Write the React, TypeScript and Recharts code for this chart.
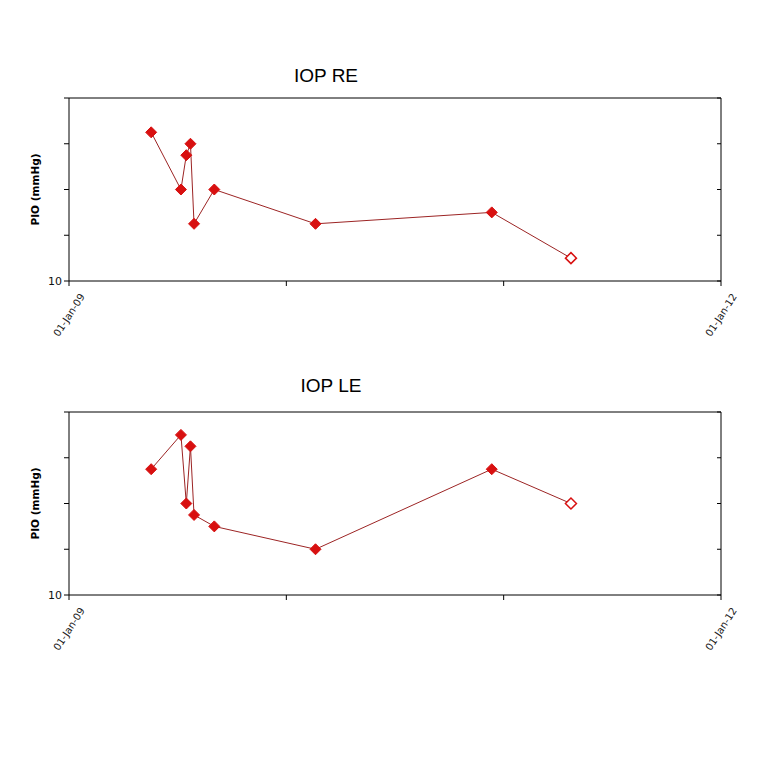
import React from "react";
import { LineChart, Line, XAxis, YAxis } from "recharts";

// visit dates and pressures
const visitDates = [
  "2009-05-19",
  "2009-07-08",
  "2009-07-17",
  "2009-07-24",
  "2009-07-30",
  "2009-09-02",
  "2010-02-19",
  "2010-12-12",
  "2011-04-24",
];
const iopRE = [23, 18, 21, 22, 15, 18, 15, 16, 12];
const iopLE = [21, 24, 18, 23, 17, 16, 14, 21, 18];

const yTicks = [10, 14, 18, 22, 26];
const xTickDates = ["2009-01-01", "2010-01-01", "2011-01-01", "2012-01-01"];
const xLabelled: Record<string, string> = {
  "2009-01-01": "01-Jan-09",
  "2012-01-01": "01-Jan-12",
};

const toTime = (d: string) => new Date(d).getTime();
const xTicks = xTickDates.map(toTime);
const xDomain = [xTicks[0], xTicks[xTicks.length - 1]];

const LINE = "#9c2424";
const MARK = "#d81010";

const Diamond = (props: any) => {
  const { cx, cy, index, total } = props;
  if (cx == null || cy == null) return <g key={"d" + index} />;
  const r = 5.5;
  const last = index === total - 1;
  return (
    <polygon
      key={"d" + index}
      points={`${cx},${cy - r} ${cx + r},${cy} ${cx},${cy + r} ${cx - r},${cy}`}
      fill={last ? "#fff" : MARK}
      stroke={MARK}
      strokeWidth={last ? 1.5 : 1}
    />
  );
};

const YTick = (props: any) => {
  const { x, y, payload } = props;
  if (payload.value !== 10) return <g />;
  return (
    <text x={x} y={y} dy="0.35em" textAnchor="end" fontSize={11} fill="#111"
      fontFamily="DejaVu Sans">
      10
    </text>
  );
};

const XTick = (props: any) => {
  const { x, y, payload } = props;
  const iso = new Date(payload.value).toISOString().slice(0, 10);
  const txt = xLabelled[iso];
  if (!txt) return <g />;
  const cy = y + 29;
  return (
    <text x={x} y={cy} textAnchor="middle" dominantBaseline="central"
      fontSize={10} fill="#222" fontFamily="DejaVu Sans"
      transform={`rotate(-57 ${x} ${cy})`}>
      {txt}
    </text>
  );
};

const YLabel = (props: any) => {
  const vb = props.viewBox || { x: 0, y: 0, height: 0 };
  const cx = 35;
  const cy = vb.y + vb.height / 2;
  return (
    <text x={cx} y={cy} textAnchor="middle" dominantBaseline="central"
      fontSize={10.5} fontWeight="bold" fill="#000" fontFamily="DejaVu Sans"
      transform={`rotate(-90 ${cx} ${cy})`}>
      PIO (mmHg)
    </text>
  );
};

const Empty = () => <g />;

const IopChart = ({ values }: { values: number[] }) => {
  const data = visitDates.map((d, i) => ({ t: toTime(d), v: values[i] }));
  return (
    <LineChart width={768} height={310} data={data}
      margin={{ top: 47, right: 47, bottom: 19, left: 29 }}>
      <XAxis dataKey="t" type="number" scale="time" domain={xDomain} ticks={xTicks}
        stroke="#000" tickSize={5} tickMargin={0} tick={<XTick />} height={60}
        interval={0} allowDataOverflow />
      <XAxis xAxisId="top" dataKey="t" orientation="top" type="number" scale="time"
        domain={xDomain} ticks={xTicks} stroke="#000" tickLine={false}
        tick={<Empty />} height={1} interval={0} />
      <YAxis type="number" domain={[10, 26]} ticks={yTicks} stroke="#000"
        tickSize={5} tick={<YTick />} width={40} interval={0}
        label={<YLabel />} />
      <YAxis yAxisId="r" orientation="right" type="number" domain={[10, 26]}
        ticks={yTicks} stroke="#000" mirror tickSize={4} tick={<Empty />}
        width={1} interval={0} />
      {/* invisible series so that the framing axes are drawn */}
      <Line xAxisId="top" yAxisId="r" dataKey="v" stroke="none" dot={false}
        activeDot={false} isAnimationActive={false} legendType="none" />
      <Line dataKey="v" stroke={LINE} strokeWidth={1} isAnimationActive={false}
        dot={(p: any) => <Diamond {...p} total={data.length} />}
        activeDot={false} />
    </LineChart>
  );
};

const titleStyle: React.CSSProperties = {
  position: "absolute",
  width: 200,
  textAlign: "center",
  fontFamily: "Liberation Sans",
  fontSize: 19,
  lineHeight: "19px",
  color: "#000",
};

export default function App() {
  return (
    <div style={{ position: "absolute", left: 0, top: 0, width: 768, height: 768, background: "#fff" }}>
      <div style={{ ...titleStyle, left: 226, top: 66 }}>IOP RE</div>
      <div style={{ position: "absolute", left: 0, top: 50 }}>
        <IopChart values={iopRE} />
      </div>
      <div style={{ ...titleStyle, left: 231, top: 376 }}>IOP LE</div>
      <div style={{ position: "absolute", left: 0, top: 364 }}>
        <IopChart values={iopLE} />
      </div>
    </div>
  );
}
